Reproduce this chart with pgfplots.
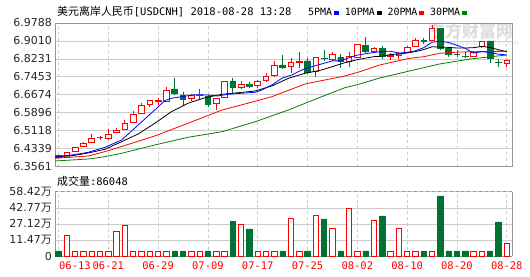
\documentclass[border=0pt]{standalone}
\usepackage{pgfplots}
\usepackage{pgfplotstable}
\pgfplotsset{compat=1.18}
\usepackage{fontspec}
\setmainfont{DejaVu Sans}
\newfontfamily\cjk{Noto Sans CJK SC}
\newfontfamily\mono{DejaVu Sans Mono}
\definecolor{cred}{RGB}{255,0,0}
\definecolor{cgreen}{RGB}{0,115,50}
\definecolor{magreen}{RGB}{0,128,0}
\definecolor{gridc}{RGB}{204,204,204}
\definecolor{framec}{RGB}{150,150,150}
\pgfplotsset{
 mainbox/.style={at={(55bp,109.5bp)}, anchor=south west, scale only axis,
   width=457.3bp, height=143.5bp,
   xmin=-0.42, xmax=54.67, ymin=6.3561, ymax=6.9788, clip=true},
}
% candles: i open high low close
\pgfplotstableread{
i O H L C
1 6.3960 6.4190 6.3930 6.4160
2 6.4203 6.4420 6.4177 6.4394
3 6.4420 6.4637 6.4394 6.4581
4 6.4611 6.4972 6.4568 6.4798
5 6.4815 6.4885 6.4711 6.4830
6 6.4768 6.5175 6.4711 6.4972
7 6.5028 6.5219 6.5002 6.5145
8 6.5175 6.5579 6.5145 6.5436
9 6.5479 6.5983 6.5436 6.5840
10 6.5870 6.6304 6.5826 6.6230
11 6.6274 6.6460 6.6130 6.6417
12 6.6400 6.6547 6.6217 6.6420
13 6.6404 6.7000 6.6374 6.6881
16 6.6521 6.6694 6.6417 6.6651
17 6.6650 6.6911 6.6478 6.6665
19 6.6317 6.6540 6.6013 6.6534
20 6.6564 6.7270 6.6521 6.7259
22 6.7000 6.7272 6.6925 6.7142
24 6.7068 6.7315 6.6981 6.7259
25 6.7302 6.7606 6.7241 6.7489
26 6.7502 6.8140 6.7445 6.7953
28 6.7910 6.8257 6.7606 6.8083
29 6.8100 6.8517 6.7823 6.8115
31 6.7675 6.8290 6.7432 6.8283
33 6.8213 6.8543 6.8153 6.8430
35 6.8109 6.8517 6.7892 6.8326
36 6.8283 6.8870 6.8257 6.8864
38 6.8574 6.8748 6.8517 6.8704
40 6.8360 6.8474 6.8183 6.8375
41 6.8370 6.8543 6.8213 6.8456
42 6.8517 6.8791 6.8500 6.8734
43 6.8760 6.9151 6.8734 6.9021
45 6.9051 6.9702 6.9008 6.9559
50 6.8357 6.8574 6.8300 6.8517
51 6.8760 6.9010 6.8691 6.9008
54 6.8023 6.8160 6.7892 6.8153
}\upcandles
\pgfplotstableread{
i O H L C
0 6.4030 6.4050 6.3920 6.3943
14 6.6925 6.7415 6.6664 6.6721
15 6.6664 6.6781 6.6187 6.6478
18 6.6590 6.6664 6.6130 6.6274
21 6.7272 6.7389 6.6738 6.6981
23 6.7129 6.7241 6.6955 6.7055
27 6.7966 6.8400 6.7793 6.7849
30 6.8140 6.8283 6.7562 6.7649
32 6.8265 6.8630 6.8140 6.8250
34 6.8300 6.8430 6.7849 6.8109
37 6.8821 6.9168 6.8474 6.8543
39 6.8691 6.8804 6.8213 6.8326
44 6.9015 6.9151 6.8878 6.9000
46 6.9559 6.9565 6.8617 6.8691
47 6.8691 6.8695 6.8326 6.8430
48 6.8435 6.8600 6.8326 6.8425
49 6.8350 6.8517 6.8283 6.8340
52 6.9008 6.9010 6.8040 6.8257
53 6.8070 6.8213 6.7866 6.8060
}\downcandles
\pgfplotstableread{
i v
0 1.0
14 1.0
15 1.0
18 1.0
21 29.5
23 22.4
27 1.0
30 1.0
32 32.1
34 1.0
37 1.0
39 35.0
44 1.0
46 54.4
47 1.0
48 1.0
49 1.0
52 1.0
53 29.2
}\volgreen
\pgfplotstableread{
i v
1 16.5
2 1.0
3 1.0
4 1.0
5 1.0
6 1.0
7 20.4
8 26.2
9 1.0
10 1.0
11 1.0
12 1.0
13 1.0
16 1.0
17 1.0
19 1.0
20 1.0
22 27.2
24 1.0
25 1.0
26 1.0
28 32.8
29 1.0
31 36.0
33 23.0
35 42.5
36 1.0
38 31.1
40 1.0
41 23.0
42 1.0
43 1.0
45 1.0
50 1.0
51 1.0
54 8.6
}\volred
\begin{document}
\begin{tikzpicture}[x=1bp,y=1bp]
\useasboundingbox (0,0) rectangle (530,276);
% watermark
\node[anchor=base west, inner sep=0, text=black!13] at (428,239) {\cjk\bfseries\fontsize{17}{17}\selectfont 东方财富网};
\node[anchor=base west, inner sep=0, text=black!13] at (440,230.5) {\fontsize{7.5}{7.5}\selectfont www.eastmoney.com};
% title
\node[anchor=base west, inner sep=0] at (57,260.5) {{\cjk\fontsize{11}{11}\selectfont 美元离岸人民币}{\mono\fontsize{10.5}{10.5}\selectfont[USDCNH] 2018-08-28 13:28}};
\node[anchor=base west, inner sep=0] at (308,260.5) {\mono\fontsize{10}{10}\selectfont 5PMA\,\textcolor{blue}{\rule[1bp]{5bp}{3.5bp}}\ 10PMA\,\textcolor{black}{\rule[1bp]{5bp}{3.5bp}}\ 20PMA\,\textcolor{cred}{\rule[1bp]{5bp}{3.5bp}}\ 30PMA\,\textcolor{magreen}{\rule[1bp]{5bp}{3.5bp}}};
\node[anchor=base west, inner sep=0] at (57,90.5) {{\cjk\fontsize{11}{11}\selectfont 成交量}{\mono\fontsize{10.5}{10.5}\selectfont:86048}};
% main price chart: frame, grid, wicks
\begin{axis}[
  mainbox,
  axis line style={framec},
  xtick={0,6,12,18,24,30,36,42,48,54}, xticklabels={},
  ytick={6.3561,6.4339,6.5118,6.5896,6.7453,6.8231,6.9010,6.9788},
  yticklabels={6.3561,6.4339,6.5118,6.5896,6.7453,6.8231,6.9010,6.9788},
  extra y ticks={6.6674}, extra y tick labels={6.6674},
  extra y tick style={grid=major, major grid style={black!50, line width=0.9bp}},
  major tick length=0pt,
  xmajorgrids, ymajorgrids,
  x grid style={gridc, dashed, line width=0.7bp},
  y grid style={gridc, line width=0.7bp},
  yticklabel style={font=\fontsize{11}{11}\selectfont, text=black!85, inner sep=0pt, xshift=-3bp},
]
\addplot[draw=none, mark=none, error bars/.cd, y dir=plus, y explicit,
  error mark=none, error bar style={cred, line width=0.8bp}]
  table[x=i, y=L, y error expr=\thisrow{H}-\thisrow{L}] {\upcandles};
\addplot[draw=none, mark=none, error bars/.cd, y dir=plus, y explicit,
  error mark=none, error bar style={cgreen, line width=0.8bp}]
  table[x=i, y=L, y error expr=\thisrow{H}-\thisrow{L}] {\downcandles};
\end{axis}
% rising candle bodies
\begin{axis}[mainbox, hide axis, ybar stacked, bar width=0.68]
\addplot[draw=none, fill=none] table[x=i, y=O] {\upcandles};
\addplot[draw=cred, fill=white, line width=0.8bp] table[x=i, y expr=\thisrow{C}-\thisrow{O}] {\upcandles};
\end{axis}
% falling candle bodies
\begin{axis}[mainbox, hide axis, ybar stacked, bar width=0.68]
\addplot[draw=none, fill=none] table[x=i, y=C] {\downcandles};
\addplot[draw=cgreen, fill=cgreen, line width=0.8bp] table[x=i, y expr=\thisrow{O}-\thisrow{C}] {\downcandles};
\end{axis}
% moving averages
\begin{axis}[mainbox, hide axis]
% 30PMA
\addplot[magreen, line width=0.8bp] coordinates {
(-0.42,6.3800) (3.6,6.3887) (5.6,6.3986) (7.6,6.4134) (11.6,6.4494) (15.6,6.4828)
(19.7,6.5071) (23.7,6.5505) (27.7,6.6013) (31.7,6.6590) (34.5,6.6981) (36.3,6.7142)
(38.7,6.7402) (42.3,6.7706) (45.9,6.8010) (49.6,6.8227) (54,6.8400)};
% 20PMA
\addplot[cred, line width=0.8bp] coordinates {
(-0.42,6.3917) (3.6,6.4017) (6.0,6.4247) (11.6,6.4885) (15.6,6.5436) (19.7,6.6013)
(22,6.6230) (25.7,6.6590) (29.7,6.7142) (34.5,6.7489) (36.3,6.7675) (38.7,6.7966)
(42.3,6.8257) (44,6.8326) (45.9,6.8474) (48.4,6.8530) (51.1,6.8550) (54,6.8560)};
% 10PMA
\addplot[black, line width=0.8bp] coordinates {
(-0.42,6.3986) (0,6.3990) (1,6.4010) (2,6.4050) (3,6.4110) (4,6.4180) (5.6,6.4308)
(7.6,6.4637) (9.6,6.4972) (11.6,6.5436) (13.6,6.5939) (15.6,6.6304) (17.65,6.6547)
(19.7,6.6694) (21.7,6.6764) (23.7,6.6838) (25.7,6.7055) (27.7,6.7389) (29.7,6.7606)
(31.7,6.7749) (34.5,6.8066) (35,6.8105) (36,6.8196) (37,6.8265) (38,6.8327) (39,6.8348)
(40,6.8421) (41,6.8438) (42,6.8487) (43,6.8546) (44,6.8635) (45,6.8758) (46,6.8741)
(47,6.8730) (48,6.8702) (49,6.8703) (50,6.8717) (51,6.8773) (52,6.8725) (53,6.8629)
(54,6.8544)};
% 5PMA
\addplot[blue, line width=0.8bp] coordinates {
(-0.42,6.3986) (1.6,6.4060) (3.6,6.4177) (5.6,6.4394) (7.6,6.4711) (9.6,6.5362)
(11.6,6.6013) (12.8,6.6417) (13.6,6.6521) (14.8,6.6590) (16.4,6.6677) (18.0,6.6664)
(19.2,6.6620) (20.4,6.6694) (22.0,6.6738) (23.7,6.6781) (24.5,6.6881) (25.7,6.7098)
(26.9,6.7389) (28.1,6.7532) (29.3,6.7749) (30.5,6.7892) (31.7,6.8010) (33,6.8145)
(34,6.8144) (35,6.8280) (36,6.8396) (37,6.8454) (38,6.8509) (39,6.8553) (40,6.8562)
(41,6.8481) (42,6.8519) (43,6.8582) (44,6.8717) (45,6.8954) (46,6.9001) (47,6.8940)
(48,6.8821) (49,6.8689) (50,6.8481) (51,6.8544) (52,6.8509) (53,6.8436) (54,6.8399)};
\end{axis}
% volume chart
\begin{axis}[
  at={(55bp,19.7bp)}, anchor=south west, scale only axis,
  width=457.3bp, height=64.5bp,
  xmin=-0.42, xmax=54.67, ymin=0, ymax=62.6,
  axis x line*=bottom, axis y line*=box,
  axis line style={framec},
  xtick={6,12,18,24,30,36,42,48,54},
  xticklabels={06-21,06-29,07-09,07-17,07-25,08-02,08-10,08-20,08-28},
  extra x ticks={0}, extra x tick labels={06-13},
  extra x tick style={grid=major, xticklabel style={anchor=north west, xshift=0.5bp}},
  xticklabel style={font=\mono\fontsize{10.5}{10.5}\selectfont, text=cred, inner sep=0pt, yshift=-5.5bp},
  ytick={0,15.65,31.3,46.95,62.6},
  yticklabels={0,11.47{\cjk 万},27.12{\cjk 万},42.77{\cjk 万},58.42{\cjk 万}},
  yticklabel style={font=\fontsize{11}{11}\selectfont, text=black!85, inner sep=0pt, xshift=-3bp},
  major tick length=0pt,
  xmajorgrids, ymajorgrids,
  x grid style={gridc, dashed, line width=0.7bp},
  y grid style={gridc, line width=0.7bp},
  clip=true,
]
\addplot[ybar, bar width=0.65, bar shift=0pt, draw=cred, fill=white, line width=0.8bp] table[x=i, y expr=\thisrow{v}+4.18] {\volred};
\addplot[ybar, bar width=0.65, bar shift=0pt, draw=cgreen, fill=cgreen, line width=0.8bp] table[x=i, y expr=\thisrow{v}+4.18] {\volgreen};
\draw[framec, dashed, line width=0.8bp] (rel axis cs:0,1) -- (rel axis cs:1,1);
\draw[framec, line width=0.8bp] (rel axis cs:1,0) -- (rel axis cs:1,1);
\end{axis}
\end{tikzpicture}
\end{document}
